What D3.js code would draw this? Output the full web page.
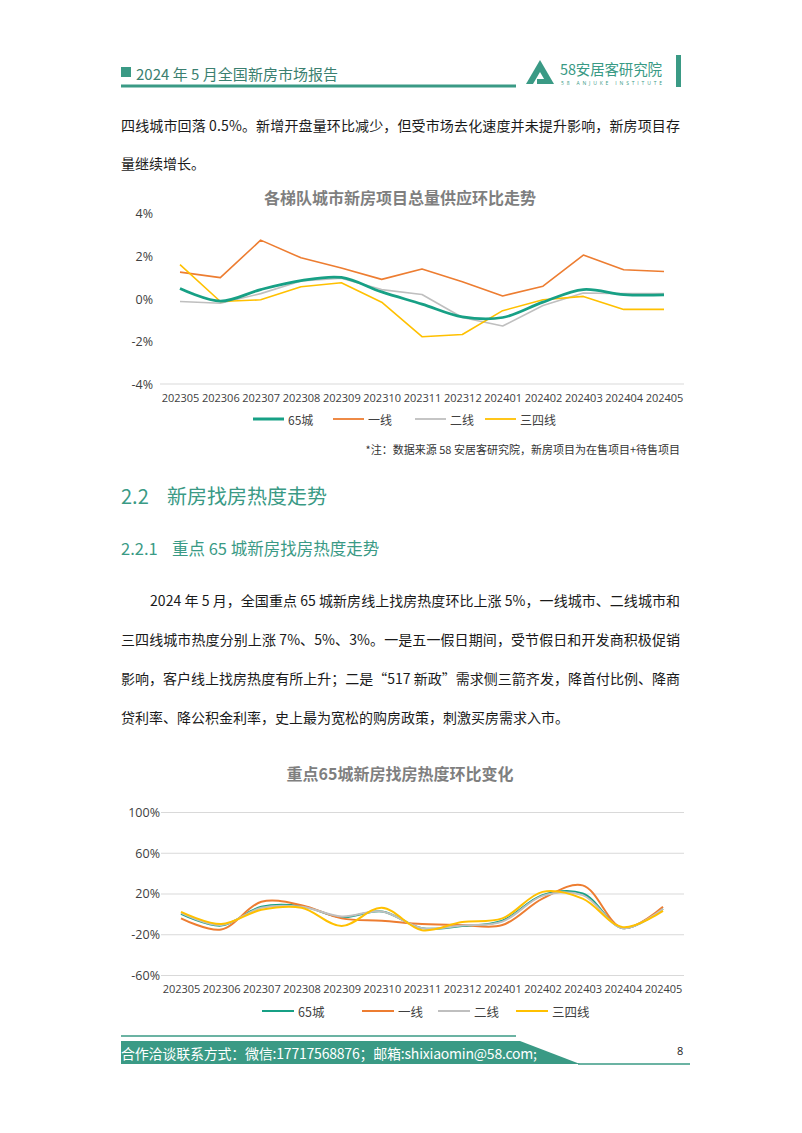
<!DOCTYPE html>
<html><head><meta charset="utf-8">
<script src="https://cdn.jsdelivr.net/npm/d3@7"></script>
<style>body{margin:0;background:#fff}svg{display:block}</style>
</head><body>
<script>
// ---------- DATA ----------
const months = ['202305','202306','202307','202308','202309','202310','202311','202312','202401','202402','202403','202404','202405'];
const seriesNames = ['65城','一线','二线','三四线'];
// Chart 1: 各梯队城市新房项目总量供应环比 (%)
const supply65  = [0.48,-0.11,0.43,0.85,1.00,0.32,-0.25,-0.85,-0.88,-0.16,0.43,0.19,0.18];
const supplyT1  = [1.25,0.99,2.75,1.92,1.44,0.91,1.40,0.80,0.13,0.59,2.05,1.36,1.28];
const supplyT2  = [-0.13,-0.21,0.24,0.83,0.96,0.43,0.20,-0.88,-1.28,-0.32,0.27,0.24,0.24];
const supplyT34 = [1.60,-0.13,-0.05,0.56,0.75,-0.16,-1.78,-1.68,-0.56,-0.05,0.11,-0.50,-0.50];
const supplyTicks = [-4,-2,0,2,4];
// Chart 2: 重点65城新房找房热度环比 (%)
const heat65  = [0,-11.5,7,7.6,-3.4,2.4,-14,-12,-6.7,18.4,20,-14,5];
const heatT1  = [-4.4,-15.4,11.9,8.6,-4.4,-6.7,-10,-11,-11,15,28,-14,7];
const heatT2  = [1,-11,6,7,-2.5,2.4,-14,-11.5,-7.6,17.7,18.4,-14,5];
const heatT34 = [2,-10,4,6,-12,6,-16,-8,-4.4,21.6,15,-13,3];
const heatTicks = [-60,-20,20,60,100];

// ---------- STYLE ----------
const TEAL='#17a085', ORANGE='#ED7D31', GRAY='#BFBFBF', YELLOW='#FFC000';
const BRAND='#3a9a85';
const colors=[TEAL,ORANGE,GRAY,YELLOW];
const CJK='"Noto Sans CJK SC","Noto Sans",sans-serif';
const LAT='"Open Sans","Noto Sans CJK SC",sans-serif';

const svg=d3.select('body').append('svg').attr('width',802).attr('height',1133);
svg.append('rect').attr('width',802).attr('height',1133).attr('fill','#fff');

function txt(x,y,s,o={}){
  const t=svg.append('text').attr('x',x).attr('y',y).text(s)
    .attr('font-family',o.ff||CJK).attr('font-size',o.fs||14)
    .attr('fill',o.fill||'#1a1a1a').attr('dominant-baseline','central')
    .attr('text-anchor',o.anchor||'start');
  if(o.fw) t.attr('font-weight',o.fw);
  if(o.len) t.attr('textLength',o.len).attr('lengthAdjust','spacing');
  return t;
}

// ---------- HEADER ----------
svg.append('rect').attr('x',121).attr('y',67).attr('width',10).attr('height',10).attr('fill',BRAND);
txt(136,73,'2024 年 5 月全国新房市场报告',{fs:15,fill:'#3b7f70',len:202});
svg.append('line').attr('x1',121).attr('x2',516).attr('y1',86).attr('y2',86).attr('stroke',BRAND).attr('stroke-width',3);
// logo
svg.append('path').attr('d','M526,84 L540,60 L554,84 Z').attr('fill',BRAND);
svg.append('path').attr('d','M533,84 L540,72 L547,84 Z').attr('fill','#fff');
svg.append('rect').attr('x',537).attr('y',79).attr('width',11).attr('height',5).attr('fill',BRAND);
txt(560,68,'58安居客研究院',{fs:14.5,fill:BRAND,len:102});
txt(561,82.5,'58 ANJUKE INSTITUTE',{fs:5,fill:BRAND,len:101,ff:LAT});
svg.append('rect').attr('x',676).attr('y',55).attr('width',5).attr('height',32).attr('fill',BRAND);

// ---------- PARAGRAPH 1 ----------
txt(121,125,'四线城市回落 0.5%。新增开盘量环比减少，但受市场去化速度并未提升影响，新房项目存',{len:559});
txt(121,163,'量继续增长。');

// ---------- CHART 1 ----------
txt(400,197,'各梯队城市新房项目总量供应环比走势',{fs:16,fw:'bold',fill:'#7f7f7f',anchor:'middle'});
const x1=d3.scalePoint().domain(months).range([180,664]);
const y1=d3.scaleLinear().domain([-4,4]).range([384,213.5]);
svg.append('line').attr('x1',160).attr('x2',684).attr('y1',y1(-4)).attr('y2',y1(-4)).attr('stroke','#d9d9d9');
const ax1=svg.append('g').attr('transform','translate(153,0)')
  .call(d3.axisLeft(y1).tickValues(supplyTicks).tickSize(0).tickFormat(d=>d+'%'));
ax1.select('.domain').remove();
ax1.selectAll('text').attr('font-family',LAT).attr('font-size',12.5).attr('fill','#404040').attr('x',0).attr('dy','0.35em');
const bx1=svg.append('g').attr('transform','translate(0,391)')
  .call(d3.axisBottom(x1).tickSize(0));
bx1.select('.domain').remove();
bx1.selectAll('text').attr('font-family',LAT).attr('font-size',11).attr('fill','#404040');

const s1=[supply65,supplyT1,supplyT2,supplyT34];
const lineStraight=d3.line().x((d,i)=>x1(months[i])).y(d=>y1(d));
const lineSmooth1=d3.line().x((d,i)=>x1(months[i])).y(d=>y1(d)).curve(d3.curveCatmullRom.alpha(0.5));
[1,2,3,0].forEach(k=>{
  svg.append('path').datum(s1[k]).attr('fill','none').attr('stroke',colors[k])
    .attr('stroke-width',k===0?2.75:1.6).attr('stroke-linejoin','round')
    .attr('d',k===0?lineSmooth1:lineStraight);
});
// legend 1
const leg1=[253,333,415,485];
seriesNames.forEach((n,k)=>{
  svg.append('line').attr('x1',leg1[k]).attr('x2',leg1[k]+31).attr('y1',419).attr('y2',419)
    .attr('stroke',colors[k]).attr('stroke-width',k===0?3:1.8);
  txt(leg1[k]+35,419,n,{fs:12,fill:'#404040'});
});
txt(680,449,'*注：数据来源 58 安居客研究院，新房项目为在售项目+待售项目',{fs:11,fill:'#333',anchor:'end'});

// ---------- SECTION HEADINGS ----------
txt(121,495,'2.2',{fs:20,fill:BRAND});
txt(167,495,'新房找房热度走势',{fs:20,fill:BRAND});
txt(121,548,'2.2.1',{fs:16.5,fill:BRAND});
txt(172,548,'重点 65 城新房找房热度走势',{fs:16.5,fill:BRAND});

// ---------- PARAGRAPH 2 ----------
txt(150,600,'2024 年 5 月，全国重点 65 城新房线上找房热度环比上涨 5%，一线城市、二线城市和',{len:530});
txt(121,639,'三四线城市热度分别上涨 7%、5%、3%。一是五一假日期间，受节假日和开发商积极促销',{len:559});
txt(121,678,'影响，客户线上找房热度有所上升；二是“517 新政”需求侧三箭齐发，降首付比例、降商',{len:559});
txt(121,717,'贷利率、降公积金利率，史上最为宽松的购房政策，刺激买房需求入市。');

// ---------- CHART 2 ----------
txt(400,773,'重点65城新房找房热度环比变化',{fs:16,fw:'bold',fill:'#7f7f7f',anchor:'middle'});
const x2=d3.scalePoint().domain(months).range([181,663]);
const y2=d3.scaleLinear().domain([-60,100]).range([975,812]);
const grid=svg.append('g').attr('transform','translate(161,0)')
  .call(d3.axisLeft(y2).tickValues(heatTicks).tickSize(-523).tickFormat(d=>d+'%'));
grid.select('.domain').remove();
grid.selectAll('line').attr('stroke','#d9d9d9');
grid.selectAll('text').attr('font-family',LAT).attr('font-size',12.5).attr('fill','#404040').attr('x',-1).attr('dy','0.35em');
const bx2=svg.append('g').attr('transform','translate(0,982)')
  .call(d3.axisBottom(x2).tickSize(0));
bx2.select('.domain').remove();
bx2.selectAll('text').attr('font-family',LAT).attr('font-size',11).attr('fill','#404040');
const s2=[heat65,heatT1,heatT2,heatT34];
const lineSmooth2=d3.line().x((d,i)=>x2(months[i])).y(d=>y2(d)).curve(d3.curveCatmullRom.alpha(0.5));
[0,1,2,3].forEach(k=>{
  svg.append('path').datum(s2[k]).attr('fill','none').attr('stroke',colors[k])
    .attr('stroke-width',2).attr('d',lineSmooth2);
});
const leg2=[262,362,438,516];
seriesNames.forEach((n,k)=>{
  svg.append('line').attr('x1',leg2[k]).attr('x2',leg2[k]+32).attr('y1',1011).attr('y2',1011)
    .attr('stroke',colors[k]).attr('stroke-width',2);
  txt(leg2[k]+36,1011,n,{fs:12.5,fill:'#404040'});
});

// ---------- FOOTER ----------
svg.append('line').attr('x1',121).attr('x2',516).attr('y1',1036).attr('y2',1036).attr('stroke',BRAND).attr('stroke-width',1.5);
svg.append('path').attr('d','M121,1041 L520,1041 L580,1064 L121,1064 Z').attr('fill',BRAND);
svg.append('line').attr('x1',578).attr('x2',690).attr('y1',1064).attr('y2',1064).attr('stroke',BRAND).attr('stroke-width',1.5);
txt(121,1053,'合作洽谈联系方式：微信:17717568876；邮箱:shixiaomin@58.com;',{fs:14,fill:'#fff',len:416});
txt(677,1050,'8',{fs:11,fill:'#222',ff:LAT});
</script>
</body></html>
